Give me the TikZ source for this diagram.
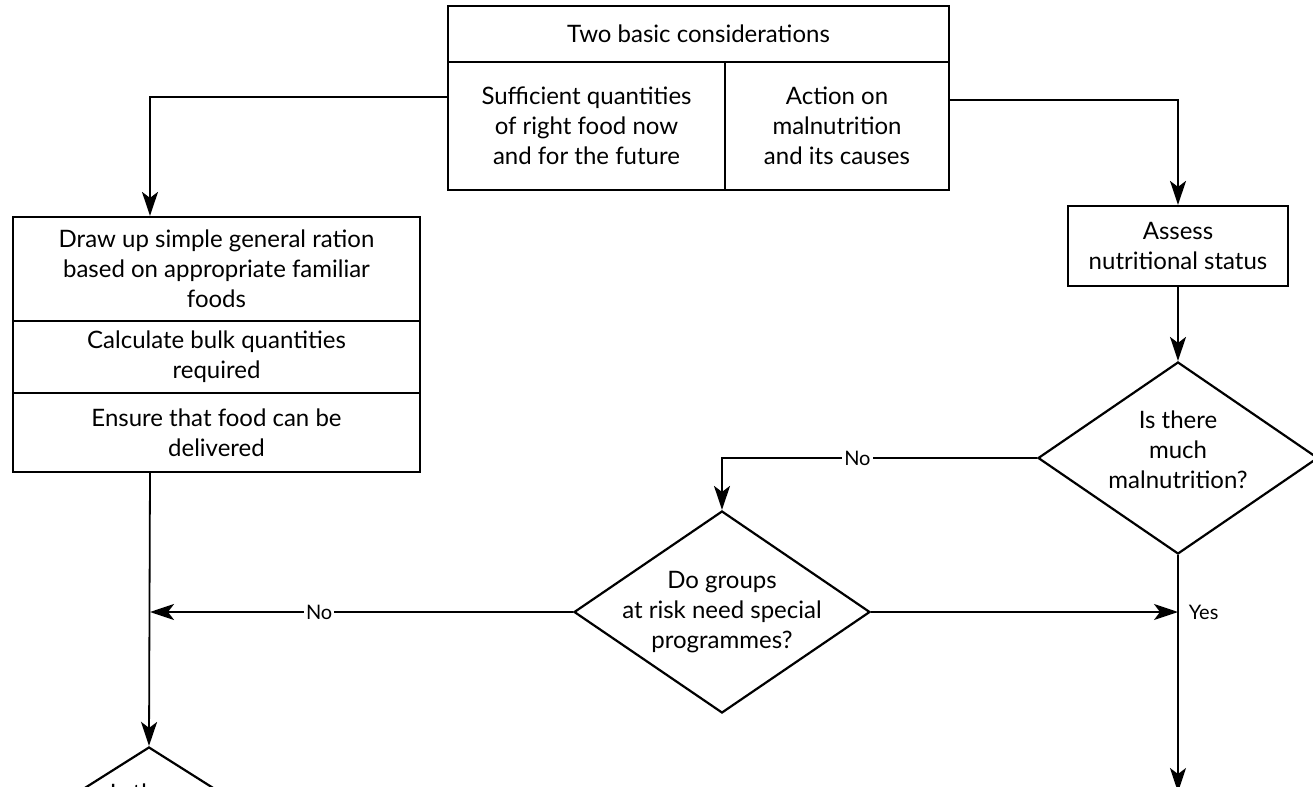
\documentclass[tikz,border=0pt]{standalone}
\usepackage{fontspec}
\setmainfont{Lato}
\usetikzlibrary{shapes.geometric,arrows.meta}
\newcommand{\chartfont}{\fontsize{12}{15}\selectfont}
\newcommand{\answerfont}{\fontsize{10}{12}\selectfont}
\begin{document}
\begin{tikzpicture}[x=0.5pt,y=-0.5pt]
            \tikzset{cell/.style 2 args={draw, line width=1.1pt, align=center, inner sep=1pt, font=\chartfont, minimum width=#1, minimum height=#2}};
            \tikzset{query/.style 2 args={draw, diamond, line width=1.1pt, inner sep=0pt, minimum width=#1, minimum height=#2}};
            \tikzset{conn/.style={line width=0.9pt, -{Stealth[length=12pt,width=8pt,inset=3pt]}}};
            \tikzset{answer/.style={fill=white, inner sep=1pt, font=\answerfont}};
            \useasboundingbox (0,0) rectangle (1313,787);
            \clip (0,0) rectangle (1313,787);
            
            \coordinate (lx) at (150,0);
            \coordinate (rx) at (1178,0);
            \coordinate (rbot) at (1178,792);
            
            \node[cell={250.5pt}{28pt}] (head) at (698.5,34) {Two basic considerations};
            \node[cell={138.5pt}{64pt}] (suff) at (586.5,126) {Sufficient quantities\\of right food now\\and for the future};
            \node[cell={112pt}{64pt}] (act) at (837,126) {Action on\\malnutrition\\and its causes};
            
            \node[cell={203.5pt}{52pt}] (ration) at (216.5,269) {Draw up simple general ration\\based on appropriate familiar\\foods};
            \node[cell={203.5pt}{36pt}] (bulk) at (216.5,357) {Calculate bulk quantities\\required};
            \node[cell={203.5pt}{39.5pt}] (deliver) at (216.5,432.5) {Ensure that food can be\\delivered};
            
            \node[cell={110pt}{40pt}] (assess) at (1178,246) {Assess\\nutritional status};
            
            \node[query={140pt}{96pt}, label={[font=\chartfont, align=center, yshift=4pt]center:{Is there\\much\\malnutrition?}}] (much) at (1178,458) {};
            \node[query={148pt}{101pt}, label={[font=\chartfont, align=center]center:{Do groups\\at risk need special\\programmes?}}] (risk) at (722,612) {};
            \node[query={158pt}{100pt}] (ok) at (149,847) {};
            \node[font=\chartfont, inner sep=0pt, anchor=north] (oktext) at (149,783) {Is there};
            
            \draw[conn] ([yshift=14.5pt]suff.west) -| (ration.north -| lx);
            \draw[conn] ([yshift=13pt]act.east) -| (assess.north);
            \draw[conn] (assess.south) -- (much.north);
            \draw[conn] (much.west) -- node[answer, pos=0.57] (no1) {No} (much.west -| risk.north) -- (risk.north);
            \draw[conn, line width=1.3pt] (risk.west) -- node[answer, pos=0.6] (no2) {No} (risk.west -| lx);
            \draw[conn] (risk.east) -- (risk.east -| rx) node[answer, right=4pt] (yes) {Yes};
            \draw[conn] (deliver.south -| lx) -- (ok.north);
            \draw[conn] (much.south) -- (rbot);
        \end{tikzpicture}
\end{document}
